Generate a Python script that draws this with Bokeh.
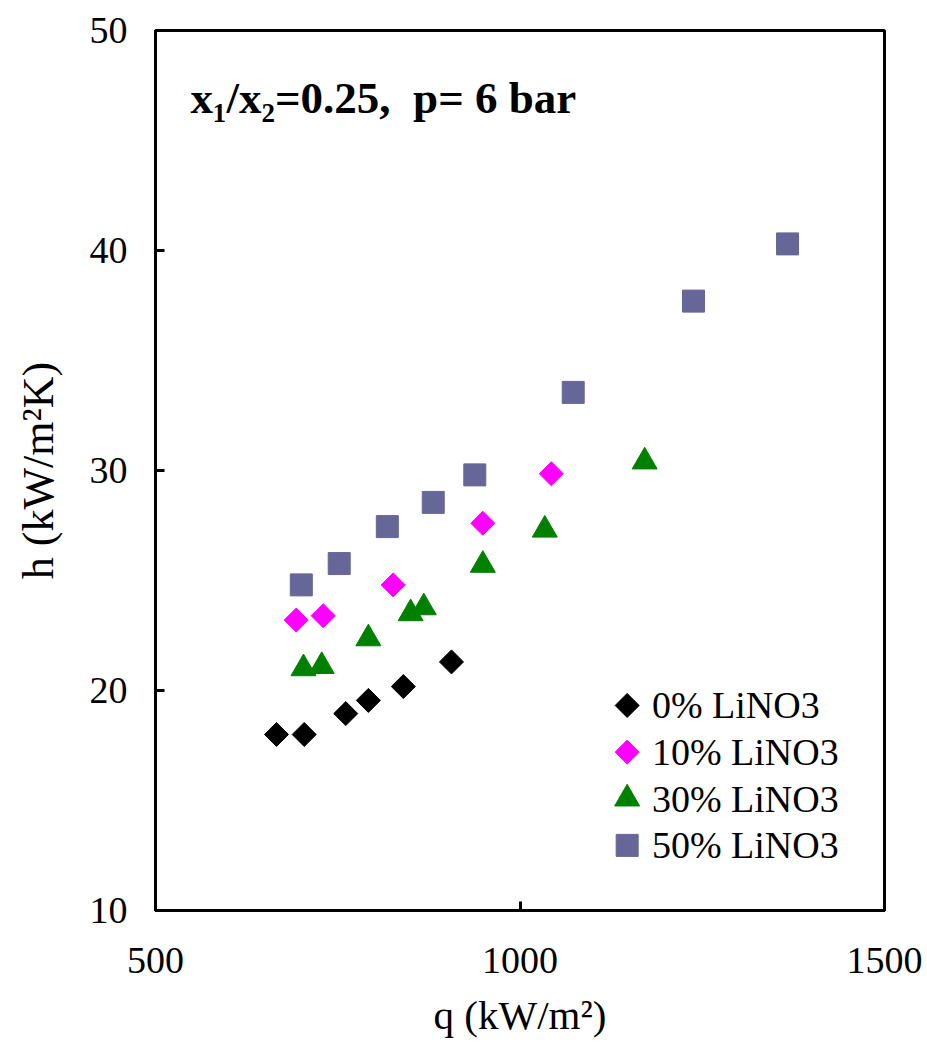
from bokeh.plotting import figure
from bokeh.models import Label, FixedTicker
from bokeh.core.properties import value
from bokeh.embed import file_html
from bokeh.resources import INLINE
import math

# ---- data ----
q_0 = [666, 704, 761, 792, 840, 906]
h_0 = [18.0, 18.0, 18.95, 19.55, 20.18, 21.3]

q_10 = [693, 730, 826, 949, 1043]
h_10 = [23.2, 23.4, 24.8, 27.6, 29.85]

q_30 = [703, 728, 792, 850, 868, 949, 1034, 1171]
h_30 = [21.0, 21.1, 22.36, 23.5, 23.77, 25.7, 27.3, 30.4]

q_50 = [700, 752, 818, 881, 938, 1073, 1238, 1367]
h_50 = [24.8, 25.77, 27.45, 28.55, 29.8, 33.55, 37.7, 40.3]

labels = ["0% LiNO3", "10% LiNO3", "30% LiNO3", "50% LiNO3"]
x_ticks = [500, 1000, 1500]
y_ticks = [10, 20, 30, 40, 50]
annotation = "x\u2081/x\u2082=0.25,\u00a0 p= 6 bar"

FONT = "Liberation Serif"

p = figure(width=927, height=1045, x_range=(500, 1500), y_range=(10, 50),
           output_backend="svg", toolbar_location=None,
           min_border_left=155, min_border_right=43,
           min_border_top=30, min_border_bottom=135)

p.xgrid.visible = False
p.ygrid.visible = False
p.outline_line_color = "black"
p.outline_line_width = 3
p.background_fill_color = "white"
p.border_fill_color = "white"

for ax in (p.xaxis[0], p.yaxis[0]):
    ax.axis_line_width = 3
    ax.axis_line_color = "black"
    ax.major_tick_in = 9
    ax.major_tick_out = 0
    ax.major_tick_line_width = 3
    ax.minor_tick_line_color = None
    ax.major_label_text_font = FONT
    ax.major_label_text_font_size = "38px"
    ax.major_label_text_color = "black"
    ax.axis_label_text_font = FONT
    ax.axis_label_text_font_style = "normal"
    ax.axis_label_text_color = "black"

p.xaxis.axis_label_text_font_size = "41px"
p.yaxis.axis_label_text_font_size = "44px"
p.xaxis.ticker = FixedTicker(ticks=x_ticks)
p.yaxis.ticker = FixedTicker(ticks=y_ticks)
p.xaxis.major_label_standoff = 37
p.yaxis.major_label_standoff = 28
p.xaxis.axis_label = "q (kW/m\u00b2)"
p.yaxis.axis_label = "h (kW/m\u00b2K)"
p.xaxis.axis_label_standoff = 16
p.yaxis.axis_label_standoff = 24

series = [
    (q_0, h_0, "square", math.pi / 4, 17, "black"),
    (q_10, h_10, "square", math.pi / 4, 17, "#FF00FF"),
    (q_30, h_30, "triangle", 0.0, 25, "#008000"),
    (q_50, h_50, "square", 0.0, 22, "#666699"),
]
for qs, hs, mk, ang, sz, col in series:
    p.scatter(qs, hs, marker=mk, angle=ang, size=sz,
              fill_color=col, line_color=col)

# ---- legend (drawn by hand so that the diamond keys keep their angle) ----
legend_q_key = 1147
legend_q_text = 1181
legend_h_top = 19.32
legend_h_step = 2.12
for i, (lab, (qs, hs, mk, ang, sz, col)) in enumerate(zip(labels, series)):
    hy = legend_h_top - i * legend_h_step
    p.scatter([legend_q_key], [hy], marker=mk, angle=ang, size=sz,
              fill_color=col, line_color=col)
    p.text([legend_q_text], [hy], text=[lab], text_font=value(FONT),
           text_font_size="38px", text_baseline="middle",
           text_align="left", text_color="black")

p.add_layout(Label(x=548, y=46.95, text=annotation, text_font=FONT,
                   text_font_style="bold", text_font_size="45px",
                   text_baseline="alphabetic", text_color="black"))

open("out.html", "w").write(file_html(p, INLINE))
